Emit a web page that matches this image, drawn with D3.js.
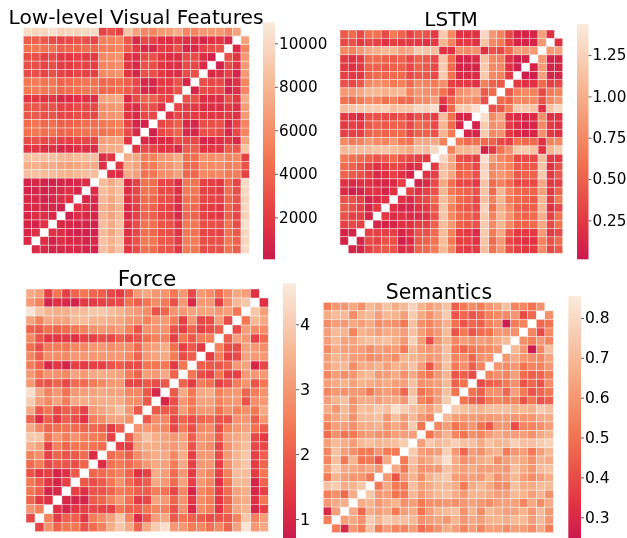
<!DOCTYPE html>
<html><head><meta charset="utf-8">
<script src="https://cdnjs.cloudflare.com/ajax/libs/d3/7.8.5/d3.min.js"></script>
<style>html,body{margin:0;padding:0;background:#fff;overflow:hidden}svg{display:block;filter:blur(.4px)}</style>
</head><body><svg id="c" width="627" height="538"></svg>
<script>
// Each matrix is symmetric about the white anti-diagonal; each row lists cells left of the diagonal.
const lowLevelRows = [
[10000,9700,9800,10300,9500,9800,9600,9900,10000,2300,3000,2300,8800,7000,5500,5500,6500,6700,7500,5500,5500,6500,6500,6500,5500,7000],
[3600,3800,3400,2800,2500,2700,3100,2900,2400,5200,5400,5700,3300,1000,2600,2400,1400,1300,1800,1300,1400,800,1500,1700,1100],
[4600,4900,4500,4600,3700,3900,4000,4300,4000,5000,5200,5600,3600,1900,1000,1000,1900,2000,3000,800,1000,2200,2800,3000],
[2900,2900,2300,2700,1800,1800,2200,2000,1900,5700,5900,6200,1700,1200,2700,3000,1800,1300,1300,2700,2700,1300,500],
[2900,2900,2400,2900,2000,2000,2400,2300,2100,5500,5700,6000,1800,1000,3000,2900,1700,1300,1300,2600,2600,1000],
[2800,2900,2500,2900,2300,2100,2500,2300,2200,5700,5900,6200,1700,800,3000,2900,1900,1300,1300,2800,2900],
[4800,5000,4600,4800,3900,4100,4400,4700,4600,4000,4200,4400,3600,2500,800,800,1900,1900,3000,800],
[4900,5100,4800,4900,4100,4300,4500,4900,4800,4000,4200,4500,3500,2600,900,900,2000,2000,3000],
[1800,2000,1600,1800,900,1000,1500,1400,1300,7000,7100,7400,1000,2800,3900,3700,2600,2500],
[3200,3300,2900,3100,2300,2300,2800,2700,2600,6100,6300,6700,1700,1200,3000,2900,1400],
[3200,3400,3000,3200,2500,2500,2900,2700,2600,6000,6200,6500,1600,1100,2600,2600],
[4300,4700,4100,4400,3700,3800,4100,4400,4300,4700,5000,5400,2500,800,500],
[4500,4900,4400,4600,3900,4100,4300,4600,4500,4500,4800,5100,2800,1000],
[2800,3000,2600,2800,2200,2100,2500,2400,2300,6800,6900,7200,1600],
[1600,1800,1300,1500,900,1000,1400,1300,1100,7300,7500,7600],
[8700,8700,8500,8700,8100,7900,8300,8500,8500,1200,1700],
[7500,7700,7200,7400,7000,6900,7200,7500,7300,1400],
[8500,8600,8300,8400,7900,7700,8100,8400,8300],
[600,900,600,500,800,700,900,1200],
[600,700,500,700,1000,1300,800],
[900,1000,500,800,1200,1500],
[900,1000,700,900,500],
[800,1300,1300,1000],
[800,600,1500],
[900,1300],
[1100]];
const lstmRows = [
[.45,.55,.35,.6,.6,.35,.65,.5,.3,.45,.4,.25,1.2,.75,.2,.2,.2,1.3,.85,.7,.35,.1,.1,.1,.9,.2],
[.35,.4,.25,.35,.3,.2,.3,.25,.25,.25,.2,.25,1.05,.7,.25,.25,.2,1.15,.75,.65,.3,.1,.1,.1,.85],
[.75,.7,.85,.95,1.0,1.05,1.05,.9,.95,1.2,1.15,1.1,.2,.2,.8,.75,.8,.2,.4,.35,.55,.9,.85,.85],
[.25,.2,.25,.55,.55,.5,.45,.5,.35,.5,.45,.35,1.15,.55,.1,.1,.15,1.15,.75,.7,.2,.05,.1],
[.25,.2,.25,.5,.5,.45,.5,.5,.35,.5,.45,.35,1.2,.55,.1,.1,.1,1.2,.75,.75,.2,.05],
[.3,.25,.25,.5,.55,.5,.55,.55,.35,.45,.45,.35,1.2,.6,.15,.15,.15,1.2,.75,.7,.25],
[.4,.35,.45,.75,.8,.75,.65,.7,.55,.75,.7,.65,.8,.3,.25,.25,.2,.7,.5,.45],
[.85,.85,.95,1.05,1.05,1.0,1.05,1.05,.7,.85,.8,.75,.6,.35,.8,.85,.95,.45,.55],
[.6,.55,.65,.75,.7,.6,.7,.55,.55,.75,.75,.9,.25,.5,.75,.8,.75,.4],
[1.1,1.15,1.2,1.2,1.2,1.25,1.1,1.15,1.15,1.3,1.25,1.35,.1,.55,1.2,1.2,1.35],
[.25,.2,.15,.4,.4,.35,.35,.4,.25,.4,.35,.3,1.1,.6,.1,.1],
[.25,.3,.25,.45,.5,.45,.5,.5,.35,.55,.5,.35,1.05,.55,.1],
[.3,.3,.3,.5,.55,.5,.55,.55,.35,.5,.5,.4,1.05,.65],
[.75,.65,.7,.85,.75,.7,.85,.65,.6,.95,.95,.95,.7],
[1.05,1.1,1.1,1.1,1.15,1.15,1.1,1.05,.95,1.15,1.1,1.3],
[.65,.6,.55,.5,.4,.45,.55,.4,.35,.3,.25],
[.55,.5,.4,.3,.2,.25,.35,.3,.15,.2],
[.5,.45,.4,.3,.15,.2,.3,.2,.1],
[.2,.15,.2,.2,.15,.1,.15,.3],
[.15,.05,.1,.2,.2,.1,.2],
[.4,.4,.3,.1,.15,.2],
[.45,.4,.3,.1,.25],
[.4,.3,.3,.1],
[.3,.35,.3],
[.1,.1],
[.1]];
const forceRows = [
[3.3,3.1,1.5,2.4,1.5,2.1,2.4,2.1,2.0,1.6,1.4,2.0,3.0,3.3,3.0,2.9,2.4,3.0,1.6,3.0,2.8,2.2,2.8,3.3,3.1,1.2],
[3.0,2.6,.9,1.2,1.0,.9,1.4,1.4,1.5,1.6,1.6,2.3,2.0,2.4,2.8,2.5,1.8,3.0,1.0,3.0,3.0,1.5,2.8,3.6,3.9],
[4.5,3.9,3.5,3.4,3.4,3.6,3.7,3.9,3.9,3.7,3.5,3.2,3.0,2.8,1.8,2.1,2.9,3.0,3.2,3.2,3.2,3.0,3.1,2.4],
[3.2,2.6,3.3,3.2,3.2,3.6,3.7,3.5,3.5,3.4,3.3,3.0,2.9,2.6,3.0,3.0,2.5,1.5,3.0,1.6,1.7,3.1,1.7],
[2.1,1.9,2.3,2.1,2.2,2.4,2.6,2.9,3.0,2.9,3.1,2.6,1.8,2.9,2.9,2.9,1.8,1.5,2.1,1.5,1.7,2.0],
[2.7,1.8,1.3,1.3,1.4,1.2,1.5,1.5,1.7,1.6,2.0,1.7,1.8,2.3,2.6,2.6,1.5,2.4,1.9,2.5,2.6],
[2.3,1.7,2.5,2.5,2.4,2.7,2.7,3.0,3.0,2.8,2.9,2.8,2.2,3.0,3.2,3.4,2.3,1.5,1.9,1.4],
[2.7,2.0,2.8,2.8,2.7,3.0,3.0,3.0,3.0,3.0,3.0,2.7,2.1,3.0,3.2,3.3,2.5,1.7,2.0],
[2.5,2.0,1.0,1.3,.9,1.5,1.4,1.5,1.5,1.8,2.0,1.7,1.7,2.4,2.4,2.4,1.4,2.4],
[3.0,2.4,2.9,2.9,2.7,3.2,3.0,3.3,3.4,3.3,3.2,2.5,2.1,3.1,3.0,3.3,2.1],
[3.0,1.9,1.8,2.1,1.6,2.2,2.2,2.5,2.7,3.0,3.0,1.6,1.6,1.9,1.7,1.9],
[4.4,3.3,2.6,3.0,2.3,3.0,3.1,3.2,3.3,3.2,3.2,2.7,2.7,1.9,1.0],
[4.0,3.1,2.7,3.2,2.5,3.3,3.4,3.3,3.4,3.4,3.4,2.9,2.8,1.9],
[3.3,1.9,2.4,1.6,2.0,2.0,1.5,3.0,3.2,3.4,3.8,3.0,1.9],
[2.1,1.1,2.0,1.4,2.0,1.7,1.2,2.5,2.8,3.2,3.2,2.9],
[3.3,2.7,2.1,2.3,2.3,2.2,2.1,2.2,2.0,1.4,2.0],
[3.9,3.9,2.4,3.0,2.5,2.9,2.6,2.5,2.4,1.5],
[3.4,3.2,1.5,2.6,2.1,2.4,2.4,2.3,2.2],
[2.6,2.8,1.5,2.1,1.8,1.9,2.2,1.1],
[2.2,2.5,1.6,1.9,1.8,1.7,2.1],
[1.8,1.3,1.5,.9,1.2,1.9],
[2.4,2.0,1.3,.9,1.5],
[2.4,2.0,.9,1.0],
[2.1,1.4,1.2],
[2.9,2.6],
[1.6]];
const semanticsRows = [
[.53,.6,.6,.65,.58,.7,.66,.73,.66,.7,.78,.68,.62,.66,.72,.45,.52,.57,.53,.6,.63,.72,.55,.56,.5,.58],
[.65,.7,.7,.57,.68,.7,.62,.7,.68,.62,.75,.65,.58,.65,.75,.42,.47,.42,.46,.54,.56,.56,.6,.4,.47],
[.57,.62,.6,.65,.62,.66,.57,.6,.58,.52,.72,.58,.55,.6,.67,.5,.42,.47,.45,.55,.58,.25,.53,.55],
[.62,.7,.68,.55,.68,.66,.62,.66,.65,.62,.72,.62,.55,.6,.7,.42,.52,.42,.48,.5,.6,.6,.58],
[.62,.7,.63,.63,.7,.72,.7,.72,.67,.6,.77,.62,.4,.6,.68,.55,.62,.58,.62,.6,.66,.7],
[.57,.66,.62,.62,.62,.57,.62,.6,.62,.52,.7,.62,.6,.62,.72,.52,.47,.52,.55,.57,.6],
[.62,.68,.66,.62,.62,.57,.58,.62,.57,.68,.68,.66,.6,.62,.72,.55,.58,.47,.58,.6],
[.62,.68,.7,.57,.66,.65,.68,.62,.68,.66,.73,.62,.43,.6,.72,.52,.58,.45,.55],
[.55,.62,.57,.6,.68,.7,.6,.62,.66,.58,.65,.55,.5,.6,.68,.42,.45,.4],
[.62,.65,.68,.63,.68,.66,.63,.66,.62,.62,.72,.58,.6,.62,.7,.45,.5],
[.55,.6,.58,.6,.6,.52,.6,.62,.58,.47,.72,.5,.55,.6,.72,.5],
[.62,.68,.72,.58,.66,.66,.62,.66,.66,.6,.77,.55,.5,.62,.75],
[.66,.6,.7,.6,.72,.7,.75,.72,.82,.77,.72,.68,.62,.7],
[.58,.64,.68,.58,.7,.7,.72,.6,.72,.62,.7,.6,.55],
[.53,.62,.62,.58,.66,.66,.68,.6,.65,.6,.75,.5],
[.48,.58,.5,.52,.6,.62,.58,.58,.62,.62,.62],
[.62,.7,.66,.62,.7,.72,.68,.7,.72,.75],
[.55,.72,.62,.58,.52,.52,.6,.52,.52],
[.55,.72,.52,.68,.5,.52,.42,.65],
[.62,.76,.65,.65,.62,.65,.6],
[.52,.68,.62,.6,.6,.52],
[.72,.76,.66,.68,.74],
[.53,.58,.47,.66],
[.6,.65,.66],
[.3,.62],
[.53]];
const lowLevelTicks = [2000,4000,6000,8000,10000];
const lstmTicks = [.25,.5,.75,1,1.25];
const forceTicks = [1,2,3,4];
const semanticsTicks = [.3,.4,.5,.6,.7,.8];
const titles = ["Low-level Visual Features","LSTM","Force","Semantics"];
const domains = [[70,10965],[.014,1.438],[.7,4.63],[.248,.855]];
const cmapPos = [0,.142,.428,.714,1];
const cmapColors = ["#cb1b4f","#e13342","#f37651","#f6b48f","#faebdd"];

const N = 27;
const svg = d3.select("#c");
const defs = svg.append("defs");
const panels = [
 {rows:lowLevelRows,ticks:lowLevelTicks,fmt:d3.format("d"),x0:23.3,x1:249.3,y0:27.7,y1:253.4,bx0:263,bx1:275,by0:22.3,by1:259.3,tx:136,ty:24,fs:20.2,ls:15.2},
 {rows:lstmRows,ticks:lstmTicks,fmt:d3.format(".2f"),x0:340,x1:562.7,y0:30,y1:253.3,bx0:577,bx1:588.5,by0:24,by1:259.3,tx:451,ty:26,fs:20,ls:15.2},
 {rows:forceRows,ticks:forceTicks,fmt:d3.format("d"),x0:26,x1:268.3,y0:289,y1:531.7,bx0:283,bx1:296,by0:283.3,by1:538.5,tx:147,ty:285.5,fs:21.7,ls:16},
 {rows:semanticsRows,ticks:semanticsTicks,fmt:d3.format(".1f"),x0:323.3,x1:553.3,y0:302.3,y1:532.7,bx0:568.3,bx1:581,by0:296,by1:538,tx:439,ty:298.5,fs:20.4,ls:15.5}
];
panels.forEach((p,k)=>{
  const [lo,hi] = domains[k];
  const color = d3.scaleLinear().domain(cmapPos.map(t=>lo+(hi-lo)*t)).range(cmapColors).interpolate(d3.interpolateRgb);
  const x = d3.scaleBand().domain(d3.range(N)).range([p.x0,p.x1]);
  const y = d3.scaleBand().domain(d3.range(N)).range([p.y0,p.y1]);
  const cells = [];
  p.rows.forEach((row,r)=>row.forEach((v,c)=>{
    cells.push({r,c,v});
    cells.push({r:N-1-c,c:N-1-r,v});
  }));
  const g = svg.append("g");
  g.selectAll("rect").data(cells).join("rect")
    .attr("x",d=>x(d.c)).attr("y",d=>y(d.r))
    .attr("width",x.bandwidth()).attr("height",y.bandwidth())
    .attr("fill",d=>color(d.v))
    .attr("stroke","#fff").attr("stroke-opacity",.65).attr("stroke-width",.6);
  // colour bar
  const id = "grad"+k;
  const grad = defs.append("linearGradient").attr("id",id).attr("x1",0).attr("x2",0).attr("y1",1).attr("y2",0);
  d3.range(0,1.0001,.05).forEach(t=>grad.append("stop").attr("offset",t).attr("stop-color",color(lo+(hi-lo)*t)));
  svg.append("rect").attr("x",p.bx0).attr("y",p.by0).attr("width",p.bx1-p.bx0).attr("height",p.by1-p.by0).attr("fill",`url(#${id})`);
  const scale = d3.scaleLinear().domain([lo,hi]).range([p.by1,p.by0]);
  const ax = svg.append("g").attr("transform",`translate(${p.bx1},0)`)
    .call(d3.axisRight(scale).tickValues(p.ticks).tickFormat(p.fmt).tickSize(3).tickPadding(1));
  ax.select(".domain").remove();
  ax.selectAll("line").attr("stroke","#333").attr("stroke-width",.8);
  ax.selectAll("text").attr("font-family","'DejaVu Sans'").attr("font-size",p.ls).attr("fill","#000");
  svg.append("text").attr("x",p.tx).attr("y",p.ty).attr("text-anchor","middle")
    .attr("font-family","'DejaVu Sans'").attr("font-size",p.fs).attr("fill","#000").text(titles[k]);
});
</script></body></html>
